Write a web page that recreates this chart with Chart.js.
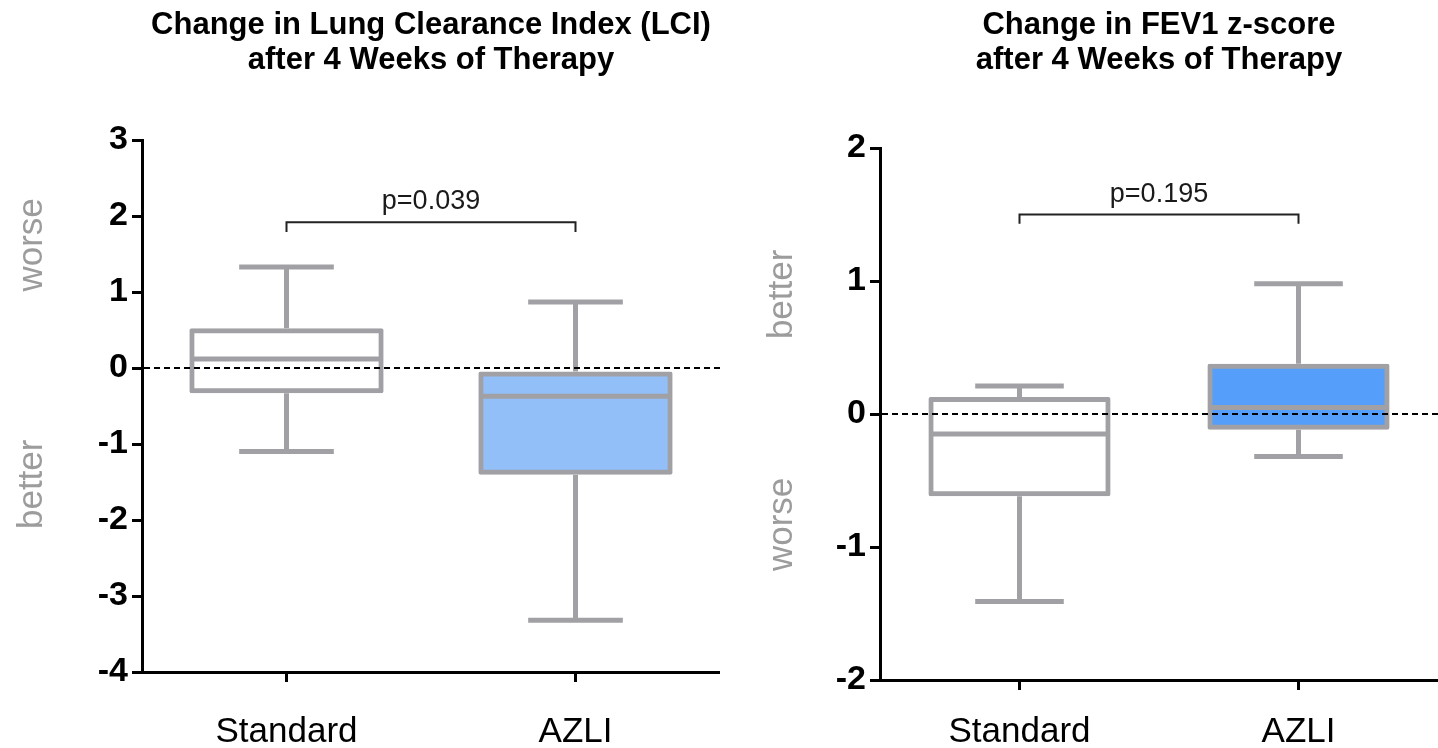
<!DOCTYPE html>
<html>
<head>
<meta charset="utf-8">
<script src="https://cdn.jsdelivr.net/npm/chart.js@4.4.3/dist/chart.umd.min.js"></script>
<style>
  body { margin: 0; background: #fff; }
  #wrap { position: relative; width: 1438px; height: 748px; }
  canvas { position: absolute; top: 0; }
</style>
</head>
<body>
<div id="wrap">
  <canvas id="lci" width="720" height="748" style="left:0"></canvas>
  <canvas id="fev" width="718" height="748" style="left:720px"></canvas>
</div>
<script>
// Groups
const categories = ['Standard', 'AZLI'];

// Change in LCI (box plot: whisker min, Q1, median, Q3, whisker max)
const lciMin = [-1.10, -3.32];
const lciQ1  = [-0.30, -1.37];
const lciMed = [0.12, -0.37];
const lciQ3  = [0.49, -0.08];
const lciMax = [1.33, 0.87];
const lciTicks = [-4, 3];

// Change in FEV1 z-score
const fevMin = [-1.41, -0.32];
const fevQ1  = [-0.60, -0.10];
const fevMed = [-0.15, 0.05];
const fevQ3  = [0.11, 0.36];
const fevMax = [0.21, 0.98];
const fevTicks = [-2, 2];

const GRAY = '#a1a1a5';
const FONT = "'Liberation Sans', Arial, Helvetica, sans-serif";
Chart.defaults.font.family = FONT;

// whiskers, medians, zero line, p-value bracket, side labels
const boxExtras = {
  id: 'boxExtras',
  afterDatasetsDraw(chart) {
    const { ctx, chartArea } = chart;
    const ds = chart.data.datasets[0];
    const ys = chart.scales.y, xs = chart.scales.x;
    const meta = chart.getDatasetMeta(0);
    const ex = ds.extra;

    ctx.save();
    ctx.strokeStyle = GRAY;
    ctx.lineWidth = 5;
    meta.data.forEach((bar, i) => {
      const x = bar.x, half = bar.width / 2;
      const pMin = ys.getPixelForValue(ex.min[i]);
      const pMax = ys.getPixelForValue(ex.max[i]);
      const pQ1 = ys.getPixelForValue(ds.data[i][0]);
      const pQ3 = ys.getPixelForValue(ds.data[i][1]);
      const pMed = ys.getPixelForValue(ex.med[i]);
      ctx.beginPath();
      ctx.moveTo(x, pQ3 - 2.5); ctx.lineTo(x, pMax);
      ctx.moveTo(x - half / 2, pMax); ctx.lineTo(x + half / 2, pMax);
      ctx.moveTo(x, pQ1 + 2.5); ctx.lineTo(x, pMin);
      ctx.moveTo(x - half / 2, pMin); ctx.lineTo(x + half / 2, pMin);
      ctx.moveTo(x - half, pMed); ctx.lineTo(x + half, pMed);
      ctx.stroke();
    });

    // zero reference line
    const y0 = ys.getPixelForValue(0);
    ctx.strokeStyle = '#000';
    ctx.lineWidth = 2;
    ctx.setLineDash([6, 4]);
    ctx.beginPath();
    ctx.moveTo(chartArea.left + 2, y0);
    ctx.lineTo(chartArea.right, y0);
    ctx.stroke();
    ctx.setLineDash([]);

    // significance bracket
    const xa = xs.getPixelForValue(0), xb = xs.getPixelForValue(1);
    const yb = ys.getPixelForValue(ex.bracket[0]);
    const yt = ys.getPixelForValue(ex.bracket[1]);
    ctx.strokeStyle = '#222';
    ctx.lineWidth = 2;
    ctx.beginPath();
    ctx.moveTo(xa, yt); ctx.lineTo(xa, yb); ctx.lineTo(xb, yb); ctx.lineTo(xb, yt);
    ctx.stroke();
    ctx.fillStyle = '#1a1a1a';
    ctx.font = '27px ' + FONT;
    ctx.textAlign = 'center';
    ctx.textBaseline = 'middle';
    ctx.fillText(ex.pText, (xa + xb) / 2, ys.getPixelForValue(ex.pY));

    // rotated side labels
    ctx.fillStyle = '#9c9c9c';
    ctx.font = '35px ' + FONT;
    ctx.textBaseline = 'alphabetic';
    ex.side.forEach(s => {
      ctx.save();
      ctx.translate(ex.sideX, ys.getPixelForValue(s.at));
      ctx.rotate(-Math.PI / 2);
      ctx.fillText(s.text, 0, 0);
      ctx.restore();
    });
    ctx.restore();
  }
};

function makeChart(id, cfg) {
  return new Chart(document.getElementById(id), {
    type: 'bar',
    data: {
      labels: categories,
      datasets: [{
        data: cfg.q1.map((v, i) => [v, cfg.q3[i]]),
        backgroundColor: cfg.fills,
        borderColor: GRAY,
        borderWidth: 5,
        borderSkipped: false,
        borderRadius: 2,
        inflateAmount: 2.5,
        barPercentage: cfg.barPct,
        categoryPercentage: 1,
        extra: cfg.extra
      }]
    },
    options: {
      responsive: false,
      animation: false,
      events: [],
      layout: { padding: 0 },
      plugins: {
        legend: { display: false },
        tooltip: { enabled: false },
        title: {
          display: true,
          fullSize: false,
          text: cfg.title,
          color: '#000',
          font: { size: 31, weight: 'bold', lineHeight: 1.13 },
          padding: { top: 8, bottom: cfg.titleGap }
        }
      },
      scales: {
        x: {
          offset: true,
          grid: { display: true, offset: false, drawOnChartArea: false, tickLength: 10, tickWidth: 3, tickColor: '#000' },
          border: { color: '#000', width: 3 },
          ticks: { color: '#000', font: { size: 35 }, padding: cfg.xPad },
          afterFit: s => { s.height = cfg.xHeight; }
        },
        y: {
          min: cfg.range[0],
          max: cfg.range[1],
          grid: { display: true, drawOnChartArea: false, tickLength: 10, tickWidth: 3, tickColor: '#000' },
          border: { color: '#000', width: 3 },
          ticks: { stepSize: 1, color: '#000', font: { size: 34, weight: 'bold' }, padding: 4 },
          afterFit: s => { s.width = cfg.yWidth; }
        }
      }
    },
    plugins: [boxExtras]
  });
}

makeChart('lci', {
  title: ['Change in Lung Clearance Index (LCI)', 'after 4 Weeks of Therapy'],
  q1: lciQ1, q3: lciQ3,
  fills: ['#ffffff', '#92bff8'],
  barPct: 0.655,
  range: lciTicks,
  yWidth: 142, xHeight: 76, xPad: 29, titleGap: 62,
  extra: {
    min: lciMin, max: lciMax, med: lciMed,
    bracket: [1.92, 1.79], pText: 'p=0.039', pY: 2.19,
    sideX: 42,
    side: [{ text: 'worse', at: 1.62 }, { text: 'better', at: -1.53 }]
  }
});

makeChart('fev', {
  title: ['Change in FEV1 z-score', 'after 4 Weeks of Therapy'],
  q1: fevQ1, q3: fevQ3,
  fills: ['#ffffff', '#559ffb'],
  barPct: 0.635,
  range: fevTicks,
  yWidth: 160, xHeight: 68, xPad: 21, titleGap: 70,
  extra: {
    min: fevMin, max: fevMax, med: fevMed,
    bracket: [1.50, 1.43], pText: 'p=0.195', pY: 1.65,
    sideX: 72,
    side: [{ text: 'better', at: 0.9 }, { text: 'worse', at: -0.83 }]
  }
});
</script>
</body>
</html>
